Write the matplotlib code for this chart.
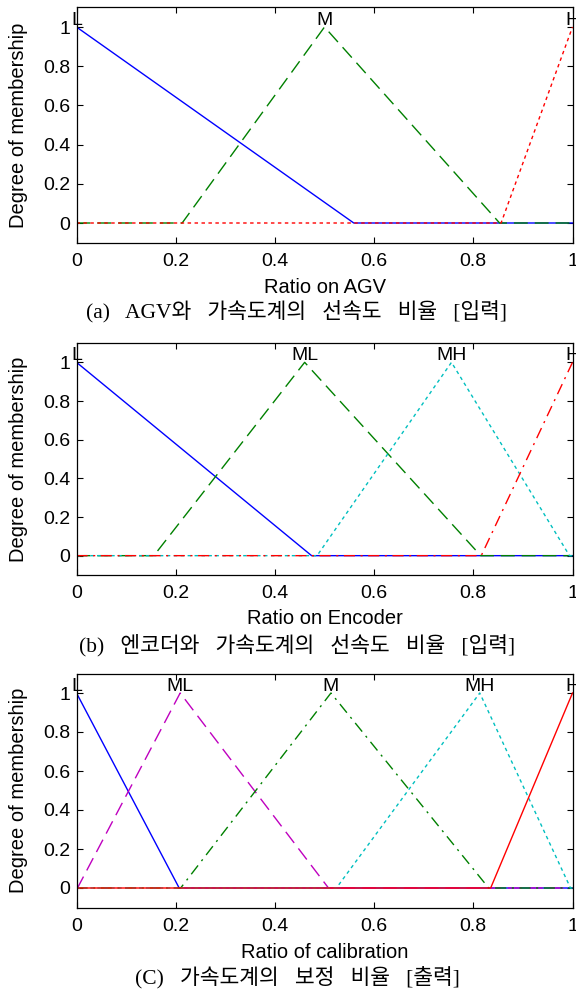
import matplotlib
matplotlib.use("Agg")
import matplotlib.pyplot as plt

W, H = 576, 994

# (a) Ratio on AGV - membership breakpoints
agv_names = ["L", "M", "H"]
agv_L_x = [0, 0.559, 1]
agv_L_y = [1, 0, 0]
agv_M_x = [0, 0.213, 0.5, 0.853, 1]
agv_M_y = [0, 0, 1, 0, 0]
agv_H_x = [0, 0.856, 1]
agv_H_y = [0, 0, 1]
agv_peaks = [0, 0.5, 1]

# (b) Ratio on Encoder
enc_names = ["L", "ML", "MH", "H"]
enc_L_x = [0, 0.474, 1]
enc_L_y = [1, 0, 0]
enc_ML_x = [0, 0.156, 0.46, 0.815, 1]
enc_ML_y = [0, 0, 1, 0, 0]
enc_MH_x = [0, 0.485, 0.756, 0.994, 1]
enc_MH_y = [0, 0, 1, 0, 0]
enc_H_x = [0, 0.816, 1]
enc_H_y = [0, 0, 1]
enc_peaks = [0, 0.46, 0.756, 1]

# (c) Ratio of calibration
cal_names = ["L", "ML", "M", "MH", "H"]
cal_L_x = [0, 0.207, 1]
cal_L_y = [1, 0, 0]
cal_ML_x = [0, 0.002, 0.209, 0.508, 1]
cal_ML_y = [0, 0, 1, 0, 0]
cal_M_x = [0, 0.21, 0.513, 0.831, 1]
cal_M_y = [0, 0, 1, 0, 0]
cal_MH_x = [0, 0.524, 0.813, 0.996, 1]
cal_MH_y = [0, 0, 1, 0, 0]
cal_H_x = [0, 0.835, 1]
cal_H_y = [0, 0, 1]
cal_peaks = [0, 0.209, 0.513, 0.813, 1]

yticks = [0, 0.2, 0.4, 0.6, 0.8, 1]
ytick_labels = ["0", "0.2", "0.4", "0.6", "0.8", "1"]
xticks = [0, 0.2, 0.4, 0.6, 0.8, 1]
xtick_labels = ["0", "0.2", "0.4", "0.6", "0.8", "1"]

BLUE = (0, 0, 1)
GREEN = (0, 0.5, 0)
RED = (1, 0, 0)
CYAN = (0, 0.75, 0.75)
MAGENTA = (0.75, 0, 0.75)

SOLID = None
DASH = (10, 5)
DOT = (2.5, 2.5)
DASHDOT = (8, 4, 1.5, 4)

SANS = "Liberation Sans"
CAP_FONT = ["Liberation Serif", "Noto Sans CJK KR"]
SP = "\u2002 "  # wider word gap as in the printed captions

panels = [
    dict(top=7.4, bottom=242.6, xlabel="Ratio on AGV", xlab_y=287,
         caption=SP.join(["(a)", "AGV와", "가속도계의", "선속도", "비율", "[입력]"]),
         cap_y=311,
         curves=[(agv_L_x, agv_L_y, BLUE, SOLID),
                 (agv_M_x, agv_M_y, GREEN, DASH),
                 (agv_H_x, agv_H_y, RED, DOT)],
         names=agv_names, peaks=agv_peaks),
    dict(top=343, bottom=575, xlabel="Ratio on Encoder", xlab_y=618,
         caption=SP.join(["(b)", "엔코더와", "가속도계의", "선속도", "비율", "[입력]"]),
         cap_y=645,
         curves=[(enc_L_x, enc_L_y, BLUE, SOLID),
                 (enc_ML_x, enc_ML_y, GREEN, DASH),
                 (enc_MH_x, enc_MH_y, CYAN, DOT),
                 (enc_H_x, enc_H_y, RED, DASHDOT)],
         names=enc_names, peaks=enc_peaks),
    dict(top=673.5, bottom=907.5, xlabel="Ratio of calibration", xlab_y=952,
         caption=SP.join(["(C)", "가속도계의", "보정", "비율", "[출력]"]),
         cap_y=978,
         curves=[(cal_L_x, cal_L_y, BLUE, SOLID),
                 (cal_ML_x, cal_ML_y, MAGENTA, DASH),
                 (cal_M_x, cal_M_y, GREEN, DASHDOT),
                 (cal_MH_x, cal_MH_y, CYAN, DOT),
                 (cal_H_x, cal_H_y, RED, SOLID)],
         names=cal_names, peaks=cal_peaks),
]

fig = plt.figure(figsize=(W / 100, H / 100), dpi=100)
left, right = 76.5, 572.5

for p in panels:
    ax = fig.add_axes([left / W, 1 - p["bottom"] / H,
                       (right - left) / W, (p["bottom"] - p["top"]) / H])
    for xs, ys, col, dash in p["curves"]:
        line, = ax.plot(xs, ys, color=col, lw=1.0)
        if dash is not None:
            line.set_dashes(dash)

    # set names above each peak, like plotmf does
    for name, px in zip(p["names"], p["peaks"]):
        ax.text(px, 1.01, name, ha="center", va="baseline",
                fontsize=14, family=SANS, clip_on=False)

    ax.set_xlim(0, 1)
    ax.set_ylim(-0.1, 1.1)
    ax.set_xticks(xticks)
    ax.set_xticklabels(xtick_labels, family=SANS, fontsize=14)
    ax.set_yticks(yticks)
    ax.set_yticklabels(ytick_labels, family=SANS, fontsize=14)
    ax.tick_params(direction="in", length=4, width=0.8, pad=4.5,
                   top=True, right=True)
    ax.tick_params(axis="x", pad=7.5)
    for s in ax.spines.values():
        s.set_linewidth(0.9)

    mid = (p["top"] + p["bottom"]) / 2
    fig.text(19 / W, 1 - mid / H, "Degree of membership", rotation=90,
             ha="center", va="center", fontsize=14.5, family=SANS)
    fig.text((left + right) / 2 / W, 1 - p["xlab_y"] / H, p["xlabel"],
             ha="center", va="center", fontsize=14.5, family=SANS)
    fig.text(297 / W, 1 - p["cap_y"] / H, p["caption"],
             ha="center", va="center", fontsize=15.5, family=CAP_FONT)

fig.savefig("out.png", dpi=100)
